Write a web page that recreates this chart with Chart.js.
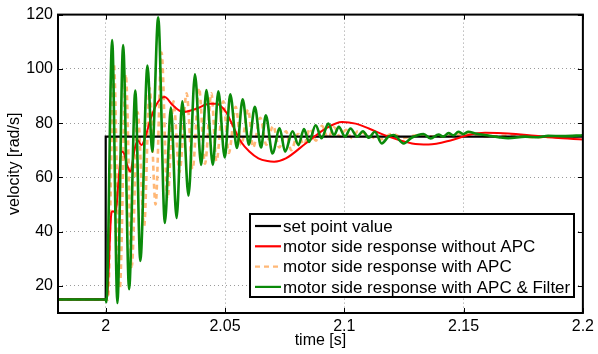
<!DOCTYPE html>
<html>
<head>
<meta charset="utf-8">
<script src="https://cdn.jsdelivr.net/npm/chart.js@4"></script>
<style>
  body { margin: 0; background: #fff; }
  #wrap { width: 598px; height: 354px; }
</style>
</head>
<body>
<div id="wrap"><canvas id="graphVitesse" width="598" height="354"></canvas></div>
<script>
// ============================================
// Données
// ============================================
var seriesLabels = [
    "set point value",
    "motor side response without APC",
    "motor side response with APC",
    "motor side response with APC & Filter"
];

var xTicks = [2, 2.05, 2.1, 2.15, 2.2];
var yTicks = [20, 40, 60, 80, 100, 120];

// consigne
var setTime = [1.98, 2.0, 2.0, 2.2];
var setVal  = [15, 15, 75, 75];

// sans APC (rouge)
var redTime = [1.98, 2.0, 2.0006, 2.0024, 2.0030, 2.0042, 2.0053, 2.0066, 2.0076, 2.0088,
    2.0104, 2.0113, 2.0122, 2.0135, 2.0149, 2.0163, 2.0191, 2.0219, 2.0247, 2.0281,
    2.0323, 2.0379, 2.0435, 2.0463, 2.0504, 2.0525, 2.0567, 2.0602, 2.0640, 2.0678,
    2.0706, 2.0755, 2.0838, 2.0922, 2.0991, 2.1047, 2.1103, 2.1186, 2.1284, 2.1353,
    2.1449, 2.1520, 2.1590, 2.1687, 2.1799, 2.1882, 2.2];
var redVal = [15, 15, 16, 46.9, 47.5, 47, 58, 69.5, 69, 65,
    62.1, 66, 70.7, 73.7, 71.9, 74, 82.3, 87.8, 89.6, 86.6,
    84.1, 85.3, 87.1, 87.1, 84.1, 80.5, 73.1, 69.5, 67, 66,
    65.8, 67, 72.5, 78, 80.4, 79.8, 78, 75, 72.5, 72.1,
    73.7, 75.6, 76.4, 76.2, 75.3, 74.6, 74];

// avec APC (orange, pointillés)
var apcTime = [1.98, 2.0, 2.0009, 2.0034, 2.0059, 2.0084, 2.0109, 2.0134, 2.0161, 2.0184,
    2.0209, 2.0234, 2.0259, 2.0284, 2.0309, 2.0339, 2.0364, 2.0391, 2.0416, 2.0443,
    2.0464, 2.0493, 2.0516, 2.0545, 2.0568, 2.0597, 2.0618, 2.0648, 2.0673, 2.0702,
    2.0727, 2.0756, 2.0777, 2.0806, 2.0831, 2.0856, 2.0881, 2.0906, 2.0932, 2.0957,
    2.0982, 2.1007, 2.1032, 2.1057, 2.1100, 2.1150, 2.1200, 2.1250, 2.1300, 2.1400,
    2.1500, 2.1600, 2.1700, 2.1800, 2.2];
var apcVal = [15, 15, 15, 102, 19, 98, 27, 84, 42, 93,
    50, 106, 52, 88, 62, 91, 63, 93, 65, 91,
    66, 88, 69, 86, 72, 85, 71, 82, 72, 79,
    71, 77, 70, 76, 72, 78, 73.5, 79, 74.5, 78.5,
    75, 77.5, 74.5, 77, 75.5, 74, 76, 74.5, 75.5, 75,
    76, 75, 75.5, 74.8, 75.2];

// avec APC et filtre (vert)
var filtTime = [1.98, 2.0, 2.0003, 2.0027, 2.0049, 2.0073, 2.0098, 2.0124, 2.0145, 2.0175,
    2.0195, 2.0220, 2.0248, 2.0273, 2.0297, 2.0321, 2.0347, 2.0374, 2.0400, 2.0422,
    2.0449, 2.0472, 2.0499, 2.0522, 2.0550, 2.0574, 2.0600, 2.0625, 2.0651, 2.0671,
    2.0699, 2.0729, 2.0752, 2.0783, 2.0808, 2.0831, 2.0852, 2.0880, 2.0905, 2.0933,
    2.0957, 2.0977, 2.1003, 2.1026, 2.1054, 2.1078, 2.1103, 2.1128, 2.1157, 2.1185,
    2.1207, 2.1249, 2.1282, 2.1332, 2.1362, 2.1395, 2.1415, 2.1437, 2.1458, 2.1478,
    2.1499, 2.1520, 2.1550, 2.1604, 2.1646, 2.1687, 2.1758, 2.1813, 2.1854, 2.1917, 2.2];
var filtVal = [15, 15, 14, 110.6, 13.7, 108.8, 18.8, 92, 29.2, 101.2,
    69.5, 119, 43.2, 85.7, 45, 88, 53.3, 98, 64.6, 92.2,
    64.6, 91.7, 67.3, 90.6, 70.8, 88.8, 72, 86, 71, 82.9,
    68.8, 78.1, 69.5, 77, 71.9, 77.8, 73.1, 79.2, 74.4, 79.8,
    75.6, 78.6, 75, 78, 75, 77, 74.6, 76.8, 72.5, 75,
    75.6, 72.5, 74.6, 76, 74.3, 75.8, 75, 76.3, 75.5, 76.8,
    76, 76.8, 76.2, 75.4, 74.8, 74.4, 75, 74.8, 75.3, 75.2, 75.5];

// ============================================
// Construction des points {x, y}
// ============================================
function points(t, v) {
    return t.map(function (x, i) { return { x: x, y: v[i] }; });
}

var police = "'Liberation Sans', Arial, Helvetica, sans-serif";

// cadre + petites graduations vers l'intérieur (style MATLAB)
var cadre = {
    id: "cadre",
    afterDatasetsDraw: function (chart) {
        var ctx = chart.ctx;
        var a = chart.chartArea;
        var sx = chart.scales.x, sy = chart.scales.y;
        ctx.save();
        ctx.strokeStyle = "#000";
        ctx.lineWidth = 1;
        ctx.beginPath();
        xTicks.forEach(function (t) {
            var px = Math.round(sx.getPixelForValue(t)) + 0.5;
            ctx.moveTo(px, a.bottom); ctx.lineTo(px, a.bottom - 5);
            ctx.moveTo(px, a.top); ctx.lineTo(px, a.top + 5);
        });
        yTicks.forEach(function (v) {
            var py = Math.round(sy.getPixelForValue(v)) + 0.5;
            ctx.moveTo(a.left, py); ctx.lineTo(a.left + 5, py);
            ctx.moveTo(a.right, py); ctx.lineTo(a.right - 5, py);
        });
        ctx.stroke();
        ctx.lineWidth = 2;
        ctx.strokeRect(a.left, a.top, a.right - a.left, a.bottom - a.top);
        ctx.restore();
    }
};

// légende encadrée dans le coin bas-droit
var legende = {
    id: "legende",
    afterDraw: function (chart) {
        var ctx = chart.ctx;
        var bx = 250, by = 214, bw = 324, bh = 83;
        ctx.save();
        ctx.fillStyle = "#fff";
        ctx.fillRect(bx, by, bw, bh);
        ctx.strokeStyle = "#000";
        ctx.lineWidth = 2;
        ctx.strokeRect(bx, by, bw, bh);
        ctx.font = "17px " + police;
        ctx.textBaseline = "middle";
        seriesLabels.forEach(function (label, i) {
            var ds = chart.data.datasets.find(function (d) { return d.label === label; });
            var y = by + 12 + i * 20.3;
            ctx.strokeStyle = ds.borderColor;
            ctx.lineWidth = 2.2;
            ctx.setLineDash(ds.borderDash || []);
            ctx.beginPath();
            ctx.moveTo(bx + 5, y);
            ctx.lineTo(bx + 31, y);
            ctx.stroke();
            ctx.setLineDash([]);
            ctx.fillStyle = "#000";
            ctx.fillText(label, bx + 33, y + 1);
        });
        ctx.restore();
    }
};

var ctx = document.getElementById("graphVitesse").getContext("2d");
new Chart(ctx, {
    type: "line",
    data: {
        datasets: [
            {
                label: seriesLabels[3],
                data: points(filtTime, filtVal),
                borderColor: "#0a8a0a",
                borderWidth: 2.6,
                order: 0
            },
            {
                label: seriesLabels[1],
                data: points(redTime, redVal),
                borderColor: "#ff0000",
                borderWidth: 2,
                order: 1
            },
            {
                label: seriesLabels[0],
                data: points(setTime, setVal),
                borderColor: "#000000",
                borderWidth: 2.2,
                cubicInterpolationMode: "default",
                tension: 0,
                order: 2
            },
            {
                label: seriesLabels[2],
                data: points(apcTime, apcVal),
                borderColor: "#ffb877",
                borderWidth: 2.6,
                borderDash: [5, 4],
                order: 3
            }
        ]
    },
    options: {
        responsive: false,
        animation: false,
        events: [],
        elements: {
            point: { radius: 0 },
            line: { cubicInterpolationMode: "monotone", fill: false }
        },
        layout: { padding: { left: 0, top: 12, right: 13, bottom: 4 } },
        plugins: {
            legend: { display: false },
            tooltip: { enabled: false }
        },
        scales: {
            x: {
                type: "linear",
                min: 1.98,
                max: 2.2,
                afterBuildTicks: function (s) {
                    s.ticks = xTicks.map(function (v) { return { value: v }; });
                },
                afterFit: function (s) { s.height = 37; },
                ticks: {
                    color: "#000",
                    padding: 4,
                    maxRotation: 0,
                    font: { family: police, size: 16 },
                    callback: function (v) { return String(v); }
                },
                grid: {
                    drawTicks: false,
                    color: function (c) { return c.tick && c.tick.value >= 2.2 ? "rgba(0,0,0,0)" : "#9a9a9a"; },
                    lineWidth: 1
                },
                border: { display: false, dash: [1, 3] },
                title: {
                    display: true,
                    text: "time [s]",
                    color: "#000",
                    padding: { top: 0, bottom: 0 },
                    font: { family: police, size: 16 }
                }
            },
            y: {
                min: 10,
                max: 120,
                afterBuildTicks: function (s) {
                    s.ticks = yTicks.map(function (v) { return { value: v }; });
                },
                afterFit: function (s) { s.width = 58; },
                ticks: {
                    color: "#000",
                    padding: 5,
                    font: { family: police, size: 16 }
                },
                grid: {
                    drawTicks: false,
                    color: function (c) { return c.tick && c.tick.value >= 120 ? "rgba(0,0,0,0)" : "#9a9a9a"; },
                    lineWidth: 1
                },
                border: { display: false, dash: [1, 3] },
                title: {
                    display: true,
                    text: "velocity [rad/s]",
                    color: "#000",
                    padding: { top: 5, bottom: 0 },
                    font: { family: police, size: 16 }
                }
            }
        }
    },
    plugins: [cadre, legende]
});
</script>
</body>
</html>
